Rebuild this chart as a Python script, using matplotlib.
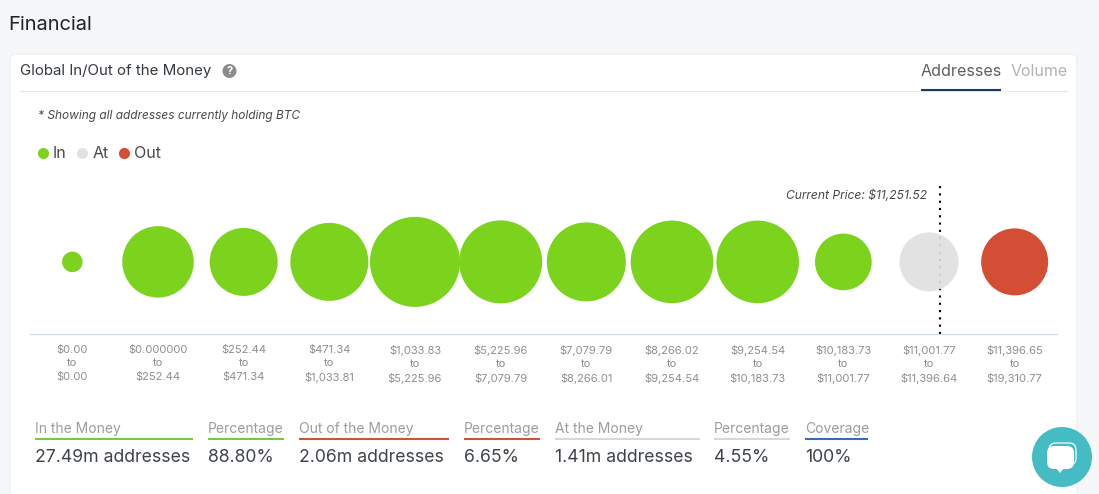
import matplotlib
matplotlib.use("Agg")
import matplotlib.pyplot as plt
from matplotlib.patches import FancyBboxPatch, Circle, Polygon
from matplotlib.lines import Line2D

plt.rcParams['font.family'] = ['Inter', 'DejaVu Sans']

range_low = ["$0.00", "$0.000000", "$252.44", "$471.34", "$1,033.83", "$5,225.96",
             "$7,079.79", "$8,266.02", "$9,254.54", "$10,183.73", "$11,001.77", "$11,396.65"]
range_high = ["$0.00", "$252.44", "$471.34", "$1,033.81", "$5,225.96", "$7,079.79",
              "$8,266.01", "$9,254.54", "$10,183.73", "$11,001.77", "$11,396.64", "$19,310.77"]
addresses_m = [0.06, 2.50, 2.15, 3.24, 4.97, 3.90, 3.37, 3.85, 3.85, 1.25, 1.41, 2.06]
status = ["In"] * 10 + ["At", "Out"]
current_price = 11251.52
bin_low = 11001.77
bin_high = 11396.64
bin_index = 10

stat_labels = ["In the Money", "Percentage", "Out of the Money", "Percentage",
               "At the Money", "Percentage", "Coverage"]
stat_values = ["27.49m addresses", "88.80%", "2.06m addresses", "6.65%",
               "1.41m addresses", "4.55%", "100%"]

COL = {"In": "#7bd31d", "At": "#e0e0e0e8", "Out": "#d34e34"}
W, H = 1099, 494
DPI = 100

fig = plt.figure(figsize=(W / DPI, H / DPI), dpi=DPI, facecolor="#f5f7f8")

# page chrome, pixel coordinates
bg = fig.add_axes([0, 0, 1, 1], zorder=0)
bg.set_xlim(0, W)
bg.set_ylim(H, 0)
bg.axis("off")
bg.add_patch(FancyBboxPatch((10, 54), 1067, 470, boxstyle="round,pad=0,rounding_size=6",
                            fc="white", ec="#eef0f1", lw=1))
bg.text(8.5, 25, "Financial", fontsize=14.4, color="#212529", va="center", ha="left")
bg.text(20, 71, "Global In/Out of the Money", fontsize=10.85, color="#343a40", va="center", ha="left")
bg.add_patch(Circle((229.5, 71), 7, fc="#8c8c8c", ec="none"))
bg.text(229.5, 71, "?", fontsize=8, fontweight="bold", color="white", va="center", ha="center")
bg.plot([20, 1067], [91.5, 91.5], color="#e8e8e8", lw=0.8)
bg.text(921, 72, "Addresses", fontsize=11.55, color="#5c6064", va="center", ha="left")
bg.text(1011, 72, "Volume", fontsize=11.5, color="#b3b3b3", va="center", ha="left")
bg.plot([921, 1001], [90, 90], color="#1f3a5f", lw=1.5, solid_capstyle="butt")
bg.text(38, 116, "* Showing all addresses currently holding BTC", fontsize=8.55,
        style="italic", color="#4a4a4a", va="center", ha="left")

# footer statistics
stat_x = [35, 208, 299, 464, 555, 714, 805]
stat_end = [193, 284, 449, 540, 700, 790, 868]
stat_col = ["#7ac943", "#7ac943", "#c8553d", "#c8553d", "#d8d8d8", "#d8d8d8", "#3c6cb4"]
for lab, val, x0, x1, c in zip(stat_labels, stat_values, stat_x, stat_end, stat_col):
    bg.text(x0, 429, lab, fontsize=10, color="#9a9ea2", va="center", ha="left")
    bg.plot([x0, x1], [438.5, 438.5], color=c, lw=1.5, solid_capstyle="butt")
    bg.text(x0, 457, val, fontsize=12.7, color="#3e444a", va="center", ha="left")

# bubble chart
left, right, top, bottom = 29.5, 1057.5, 185, 334
ax = fig.add_axes([left / W, 1 - bottom / H, (right - left) / W, (bottom - top) / H],
                  zorder=1, facecolor="none")
ax.set_xlim(-0.5, 11.5)
ax.set_ylim(0, 1)
xs = list(range(len(addresses_m)))
# diameter (px) = 52.6 * value ** 0.335
sizes = [(52.6 * v ** 0.335 * 72 / DPI) ** 2 for v in addresses_m]
ax.scatter(xs, [0.484] * len(xs), s=sizes, c=[COL[s] for s in status], linewidths=0, zorder=3)
px = bin_index - 0.5 + (current_price - bin_low) / (bin_high - bin_low)
ax.plot([px, px], [0, 1], color="black", lw=1.5, linestyle=(0, (1, 2.5)), zorder=2)
ax.text(px - 0.16, 0.93, f"Current Price: ${current_price:,.2f}", fontsize=8.7, style="italic",
        color="#4a4a4a", va="center", ha="right")
ax.set_yticks([])
ax.set_xticks(xs)
ax.set_xticklabels([f"{a}\nto\n{b}" for a, b in zip(range_low, range_high)],
                   fontsize=8, color="#8b8f93", linespacing=1.4)
ax.tick_params(axis="x", length=0, pad=8)
for s in ["top", "left", "right"]:
    ax.spines[s].set_visible(False)
ax.spines["bottom"].set_color("#cfd8e0")
ax.spines["bottom"].set_linewidth(0.9)

handles = [Line2D([], [], marker="o", ls="", ms=8, mew=0, color=COL[k]) for k in ["In", "At", "Out"]]
fig.legend(handles, ["In", "At", "Out"], loc="center left", bbox_to_anchor=(27 / W, 1 - 154 / H),
           ncol=3, frameon=False, fontsize=11.5, labelcolor="#4a4a4a", handletextpad=-0.38,
           columnspacing=-0.02, borderpad=0, borderaxespad=0)

# chat widget
top_ax = fig.add_axes([0, 0, 1, 1], zorder=2, facecolor="none")
top_ax.set_xlim(0, W)
top_ax.set_ylim(H, 0)
top_ax.axis("off")
top_ax.add_patch(Circle((1062, 457), 30, fc="#45bcc4", ec="none"))
top_ax.add_patch(FancyBboxPatch((1049, 443), 27, 22, boxstyle="round,pad=0,rounding_size=7",
                                fc="none", ec="#e4f6f7", lw=1))
top_ax.add_patch(FancyBboxPatch((1047, 446), 27, 23, boxstyle="round,pad=0,rounding_size=7",
                                fc="white", ec="none"))
top_ax.add_patch(Polygon([[1056, 468], [1064, 468], [1060, 473]], fc="white", ec="none"))

fig.savefig("out.png", dpi=DPI, facecolor=fig.get_facecolor())
